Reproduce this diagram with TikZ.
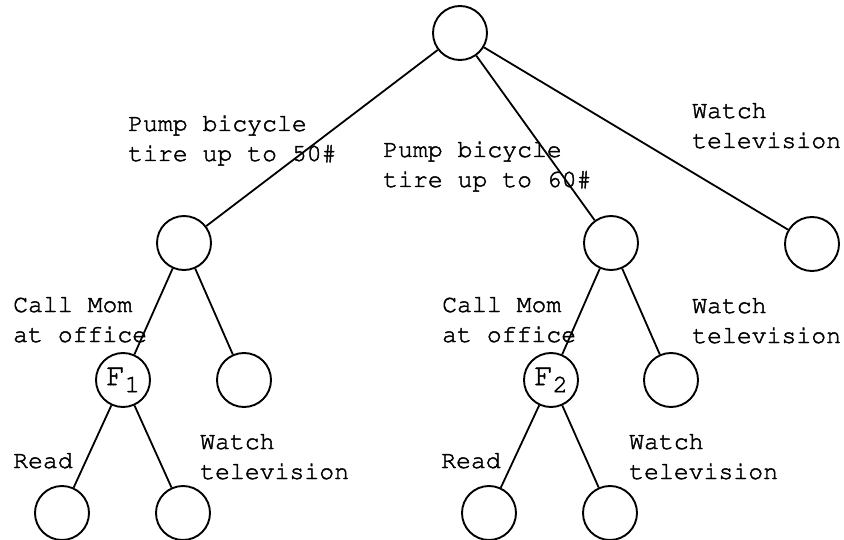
\documentclass[tikz,border=0pt]{standalone}
\usepackage[T1]{fontenc}
% Courier, drawn with a thin outline stroke for a heavier line
\newcommand\cour{\fontencoding{T1}\fontfamily{pcr}\selectfont\special{pdf:literal direct 2 Tr 0.45 w}}
\newcommand\fsub[2]{#1\raisebox{-7pt}{\fontsize{25}{30}\selectfont#2}}
\begin{document}
\begin{tikzpicture}[x=1pt,y=-1pt,
  state/.style={circle,draw,line width=1.9pt,minimum size=54pt,inner sep=0pt,font=\cour\fontsize{31}{36}\selectfont},
  edge/.style={line width=1.8pt},
  lbl/.style={anchor=base west,inner sep=0pt,align=left,font=\cour\fontsize{24.8}{30}\selectfont}]
\useasboundingbox (0,0) rectangle (844,540);
% decision points
\node[state] (r)  at (460,33) {};
\node[state] (a)  at (184,243) {};
\node[state] (b)  at (611,243) {};
\node[state] (c)  at (812,244) {};
\node[state] (f1) at (123,380) {\fsub{F}{1}};
\node[state] (a2) at (244,380) {};
\node[state] (f2) at (551,380) {\fsub{F}{2}};
\node[state] (b2) at (671,380) {};
\node[state] (l1) at (62,513) {};
\node[state] (l2) at (183,513) {};
\node[state] (l3) at (489,513) {};
\node[state] (l4) at (610,513) {};
% branches
\draw[edge] (r) -- (a);
\draw[edge] (r) -- (b);
\draw[edge] (r) -- (c);
\draw[edge] (a) -- (f1);
\draw[edge] (a) -- (a2);
\draw[edge] (b) -- (f2);
\draw[edge] (b) -- (b2);
\draw[edge] (f1) -- (l1);
\draw[edge] (f1) -- (l2);
\draw[edge] (f2) -- (l3);
\draw[edge] (f2) -- (l4);
% action labels (anchored at the baseline of the last line)
\node[lbl] (t1)  at (128,161) {Pump bicycle\\tire up to 50\#};
\node[lbl] (t2)  at (383,187) {Pump bicycle\\tire up to 60\#};
\node[lbl] (t3)  at (692,148) {Watch\\television};
\node[lbl] (t4)  at (13,342)  {Call Mom\\at office};
\node[lbl] (t5)  at (442,342) {Call Mom\\at office};
\node[lbl] (t6)  at (692,343) {Watch\\television};
\node[lbl] (t7)  at (13,468)  {Read};
\node[lbl] (t8)  at (200,479) {Watch\\television};
\node[lbl] (t9)  at (441,468) {Read};
\node[lbl] (t10) at (629,479) {Watch\\television};
\end{tikzpicture}
\end{document}
